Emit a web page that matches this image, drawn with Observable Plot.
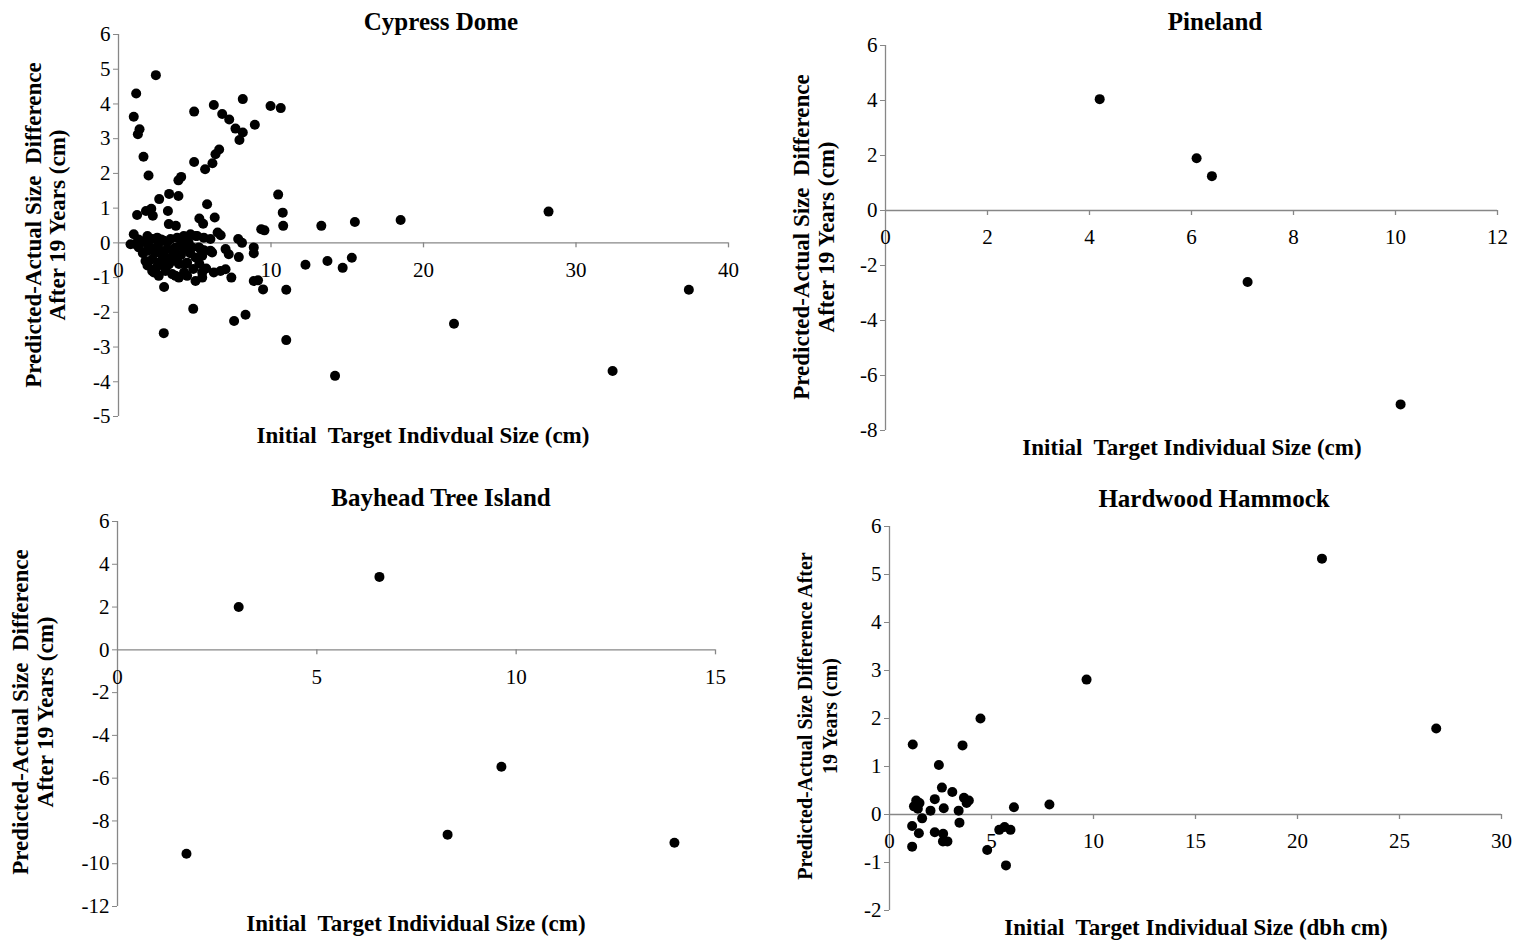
<!DOCTYPE html>
<html>
<head>
<meta charset="utf-8">
<script src="https://cdn.jsdelivr.net/npm/d3@7"></script>
<script src="https://cdn.jsdelivr.net/npm/@observablehq/plot@0.6"></script>
<style>
  html, body { margin: 0; padding: 0; background: #fff; }
  #page { position: relative; width: 1518px; height: 941px; overflow: hidden; background: #fff;
          font-family: "Liberation Serif", "Times New Roman", serif; color: #000; }
  .panel { position: absolute; }
  .lbl { position: absolute; white-space: pre; font-weight: bold; line-height: 1;
         transform: translate(-50%, -50%); }
  .rot { transform: translate(-50%, -50%) rotate(-90deg); }
</style>
</head>
<body>
<div id="page"></div>
<script>
// ---- data: [initial size (cm), predicted − actual difference (cm)] ----
const cypressDome = [
  [2.45,4.83],[1.16,4.30],[1.0,3.63],[1.38,3.27],[1.27,3.13],[1.64,2.48],[1.97,1.94],
  [4.96,3.78],[6.25,3.97],[6.80,3.71],[7.26,3.55],[7.67,3.29],[8.15,3.18],[7.93,2.96],
  [8.15,4.14],[8.94,3.40],[9.97,3.94],[10.64,3.88],
  [6.60,2.69],[6.36,2.55],[6.16,2.29],[5.68,2.12],[4.96,2.33],[3.93,1.80],[4.11,1.90],
  [2.67,1.26],[3.32,1.41],[3.93,1.35],[5.81,1.11],[10.47,1.39],[10.77,0.87],[10.8,0.49],
  [1.22,0.80],[1.80,0.92],[2.15,0.98],[2.25,0.78],[3.24,0.92],[3.30,0.54],[3.76,0.49],
  [5.30,0.70],[5.55,0.55],[6.31,0.73],[9.36,0.39],[9.57,0.36],[6.50,0.30],[6.70,0.22],
  [7.85,0.11],[8.1,0.0],[1.0,0.25],
  [12.26,-0.63],[13.3,0.49],[15.5,0.6],[18.5,0.66],[28.2,0.9],
  [15.3,-0.43],[14.7,-0.72],[13.7,-0.52],[11.0,-1.35],[11.0,-2.8],[22.0,-2.33],
  [14.2,-3.83],[32.4,-3.69],[37.4,-1.35],
  [0.79,-0.04],[1.11,-0.04],[1.33,-0.13],[1.77,0.01],[2.21,0.11],[2.54,0.15],[2.97,0.06],
  [3.41,0.11],[3.85,0.15],[4.28,0.20],[4.72,0.25],[5.16,0.20],[5.05,0.20],[5.59,0.15],[6.03,0.11],
  [1.88,-0.23],[2.32,-0.18],[2.75,-0.23],[3.19,-0.18],[3.74,-0.13],[4.28,-0.18],[4.83,-0.13],
  [5.38,-0.18],[6.03,-0.23],[7.02,-0.18],[7.23,-0.33],[7.89,-0.41],[8.87,-0.13],[8.87,-0.30],
  [5.27,-0.13],[5.6,-0.21],[6.14,-0.28],
  [1.77,-0.52],[2.21,-0.47],[2.64,-0.57],[3.08,-0.42],[3.52,-0.52],[3.96,-0.61],[4.50,-0.57],
  [5.05,-0.42],[5.49,-0.37],[4.39,-0.61],
  [2.21,-0.81],[2.64,-0.95],[3.08,-0.81],[3.52,-0.90],[3.96,-1.0],[4.50,-0.95],[5.05,-1.10],
  [5.49,-1.0],[5.75,-0.74],[6.25,-0.85],[6.69,-0.81],[7.02,-0.76],[7.40,-1.0],[5.49,-0.85],
  [2.32,-0.85],[3.74,-0.95],
  [2.99,-1.27],[8.87,-1.10],[9.15,-1.08],[9.48,-1.34],[4.9,-1.9],[7.58,-2.25],[8.33,-2.07],[2.97,-2.6],
  [1.5,0.05],[2.0,-0.1],[2.6,-0.05],[3.2,0.02],[3.6,-0.3],[4.1,-0.35],[4.6,0.0],[2.9,-0.4],[1.6,-0.3],
  [1.3,0.1],[1.9,0.2],[2.4,-0.3],[2.8,0.1],[3.3,-0.62],[3.9,-0.4],[4.3,-0.85],[4.7,-0.3],
  [4.1,0.05],[3.0,-0.65],[2.5,-0.7],[1.9,-0.65],[4.9,-0.75],[5.3,-0.6]
];
const pineland = [[4.2,4.05],[6.1,1.9],[6.4,1.25],[7.1,-2.6],[10.1,-7.05]];
const bayhead = [[3.04,2.0],[6.57,3.41],[1.73,-9.53],[8.28,-8.64],[9.63,-5.47],[13.97,-9.02]];
const hardwood = [
  [21.2,5.33],[26.8,1.79],[9.66,2.81],[4.46,2.0],[7.84,0.21],
  [1.14,1.46],[3.58,1.44],[2.42,1.03],[2.57,0.56],[3.08,0.47],[2.22,0.32],[3.65,0.35],
  [3.89,0.29],[3.78,0.24],[1.31,0.29],[1.47,0.24],[1.20,0.17],[1.39,0.12],[2.01,0.08],
  [2.66,0.13],[3.39,0.08],[6.10,0.15],[1.6,-0.08],[1.11,-0.24],[1.44,-0.39],[3.43,-0.17],
  [2.22,-0.37],[2.63,-0.40],[2.62,-0.56],[2.84,-0.56],[5.38,-0.32],[5.64,-0.26],[5.93,-0.32],
  [1.11,-0.67],[4.79,-0.74],[5.71,-1.06]
];

// ---- axis tick values ----
const cypressXTicks = [0, 10, 20, 30, 40];
const cypressYTicks = d3.range(-5, 7, 1);
const pinelandXTicks = d3.range(0, 13, 2);
const pinelandYTicks = d3.range(-8, 7, 2);
const bayheadXTicks = [0, 5, 10, 15];
const bayheadYTicks = d3.range(-12, 7, 2);
const hardwoodXTicks = [0, 5, 10, 15, 20, 25, 30];
const hardwoodYTicks = d3.range(-2, 7, 1);

const AXIS = "#878787";
const page = document.getElementById("page");

function panel({data, left, top, width, height, margin, xDomain, yDomain, xTicks, yTicks}) {
  const [mt, mr, mb, ml] = margin;
  const chart = Plot.plot({
    width, height,
    marginTop: mt, marginRight: mr, marginBottom: mb, marginLeft: ml,
    x: {domain: xDomain, axis: null},
    y: {domain: yDomain},
    style: {fontFamily: "Liberation Serif, Times New Roman, serif", fontSize: "21px",
            background: "transparent", overflow: "visible", color: "#000"},
    marks: [
      Plot.ruleX([0], {stroke: AXIS, strokeWidth: 1.3}),
      Plot.ruleY([0], {stroke: AXIS, strokeWidth: 1.3}),
      Plot.axisY({ticks: yTicks, tickSize: 5, tickPadding: 3, stroke: AXIS, fill: "#000",
                  tickFormat: d => String(d), label: null, fontSize: 21}),
      Plot.ruleX(xTicks.filter(d => d !== 0), {x: d => d, y1: 0, y2: 0, insetBottom: -5,
                  stroke: AXIS, strokeWidth: 1.3}),
      Plot.text(xTicks, {x: d => d, y: 0, text: d => String(d), dy: 27, fontSize: 21, fill: "#000"}),
      Plot.dot(data, {x: d => d[0], y: d => d[1], r: 5, fill: "#000", stroke: null})
    ]
  });
  chart.classList.add("panel");
  chart.style.left = left + "px";
  chart.style.top = top + "px";
  page.appendChild(chart);
}

function label(text, x, y, size, rotate) {
  const el = document.createElement("div");
  el.className = "lbl" + (rotate ? " rot" : "");
  el.textContent = text;
  el.style.left = x + "px";
  el.style.top = y + "px";
  el.style.fontSize = size + "px";
  page.appendChild(el);
}

// Cypress Dome
panel({data: cypressDome, left: 0, top: 0, width: 760, height: 460,
       margin: [34, 32, 44, 118], xDomain: [0, 40], yDomain: [-5, 6],
       xTicks: cypressXTicks, yTicks: cypressYTicks});
// Pineland
panel({data: pineland, left: 760, top: 0, width: 758, height: 470,
       margin: [45, 21, 40, 125], xDomain: [0, 12], yDomain: [-8, 6],
       xTicks: pinelandXTicks, yTicks: pinelandYTicks});
// Bayhead Tree Island
panel({data: bayhead, left: 0, top: 470, width: 760, height: 471,
       margin: [51, 45, 35, 117], xDomain: [0, 15], yDomain: [-12, 6],
       xTicks: bayheadXTicks, yTicks: bayheadYTicks});
// Hardwood Hammock
panel({data: hardwood, left: 760, top: 470, width: 758, height: 471,
       margin: [56, 17, 31, 129], xDomain: [0, 30], yDomain: [-2, 6],
       xTicks: hardwoodXTicks, yTicks: hardwoodYTicks});

// panel titles
label("Cypress Dome", 441, 21, 25);
label("Pineland", 1215, 21, 25);
label("Bayhead Tree Island", 441, 497, 25);
label("Hardwood Hammock", 1214, 498, 25);

// x-axis titles
label("Initial  Target Indivdual Size (cm)", 423, 435, 23);
label("Initial  Target Individual Size (cm)", 1192, 447, 23);
label("Initial  Target Individual Size (cm)", 416, 923, 23);
label("Initial  Target Individual Size (dbh cm)", 1196, 927, 23);

// y-axis titles
label("Predicted-Actual Size  Difference", 33, 225, 23, true);
label("After 19 Years (cm)", 57, 225, 23, true);
label("Predicted-Actual Size  Difference", 801, 237, 23, true);
label("After 19 Years (cm)", 826, 237, 23, true);
label("Predicted-Actual Size  Difference", 20, 712, 23, true);
label("After 19 Years (cm)", 45, 712, 23, true);
label("Predicted-Actual Size Difference After", 805, 716, 20, true);
label("19 Years (cm)", 830, 716, 20, true);
</script>
</body>
</html>
